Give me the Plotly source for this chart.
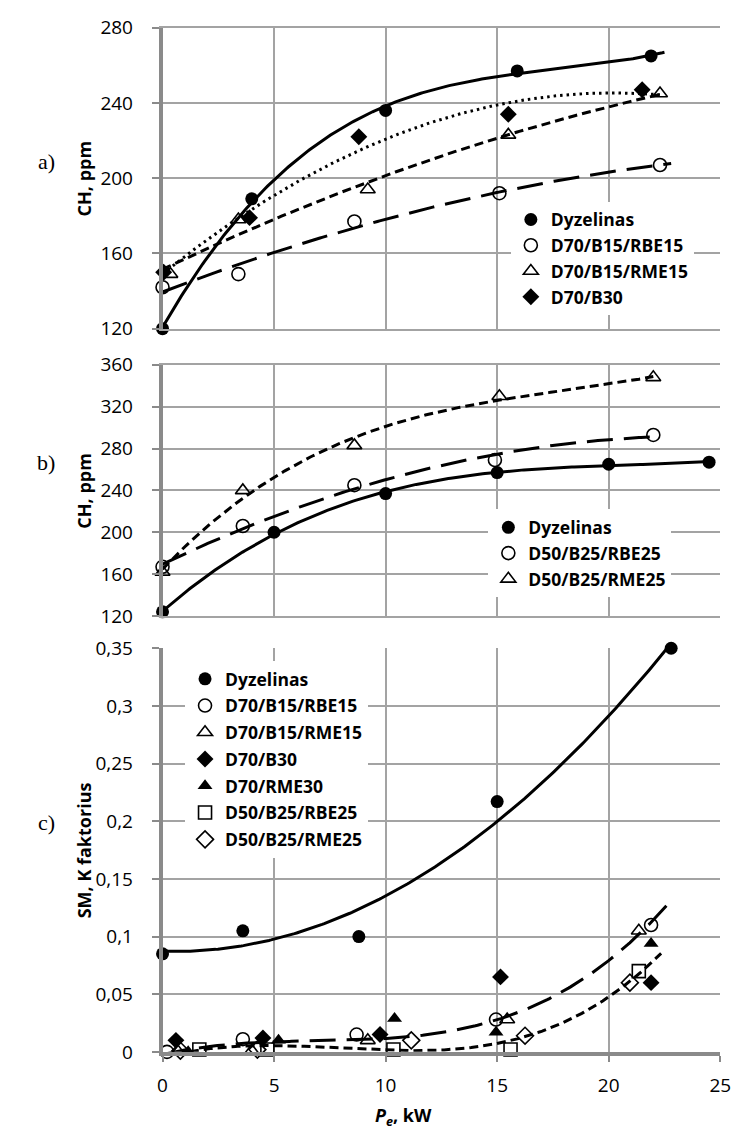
import numpy as np
import plotly.graph_objects as go

W, H = 742, 1145

# ---------------- a) CH, ppm : diesel vs D70 blends ----------------
a_dyz_x = [0.0, 4.0, 10.0, 15.9, 21.9]
a_dyz_y = [120, 189, 236, 257, 265]
a_rbe15_x = [0.0, 3.4, 8.6, 15.1, 22.3]
a_rbe15_y = [142, 149, 177, 192, 207]
a_rme15_x = [0.35, 3.4, 9.2, 15.5, 22.3]
a_rme15_y = [149, 178, 194, 223, 245]
a_b30_x = [0.05, 3.9, 8.8, 15.5, 21.5]
a_b30_y = [150, 179, 222, 234, 247]

# ---------------- b) CH, ppm : diesel vs D50 blends ----------------
b_dyz_x = [0.0, 5.0, 10.0, 15.0, 20.0, 24.5]
b_dyz_y = [124, 200, 237, 257, 265, 267]
b_rbe25_x = [0.0, 3.6, 8.6, 14.9, 22.0]
b_rbe25_y = [167, 206, 245, 269, 293]
b_rme25_x = [0.0, 3.6, 8.6, 15.1, 22.0]
b_rme25_y = [162, 240, 283, 330, 348]

# ---------------- c) smoke, K factor ----------------
c_dyz_x = [0.0, 3.6, 8.8, 15.0, 22.8]
c_dyz_y = [0.085, 0.105, 0.100, 0.217, 0.350]
c_rbe15_x = [0.2, 3.6, 8.7, 14.95, 21.9]
c_rbe15_y = [0.0, 0.011, 0.015, 0.028, 0.110]
c_rme15_x = [0.7, 4.0, 9.2, 15.45, 21.35]
c_rme15_y = [0.0, 0.001, 0.010, 0.028, 0.105]
c_b30_x = [0.6, 4.5, 9.75, 15.15, 21.9]
c_b30_y = [0.010, 0.012, 0.015, 0.065, 0.060]
c_rme30_x = [1.15, 5.2, 10.4, 14.95, 21.9]
c_rme30_y = [0.0, 0.010, 0.029, 0.017, 0.094]
c_rbe25_x = [1.65, 4.7, 10.35, 15.6, 21.35]
c_rbe25_y = [0.002, 0.002, 0.002, 0.002, 0.070]
c_rme25_x = [0.8, 4.25, 11.15, 16.25, 20.95]
c_rme25_y = [0.001, 0.002, 0.010, 0.014, 0.060]

INK = "#000000"
GRID = "#a3a3a3"
AXIS = "#8a8a8a"
SANS = "Open Sans"
SERIF = "Liberation Serif"

fig = go.Figure()


def add_trend(xs, ys, deg, x0, x1, dash, xa, ya):
    """Least-squares polynomial trend line drawn over [x0, x1]."""
    coef = np.polyfit(xs, ys, deg)
    xf = np.linspace(x0, x1, 240)
    fig.add_trace(go.Scatter(
        x=xf, y=np.polyval(coef, xf), mode="lines",
        line=dict(color=INK, width=3, dash=dash),
        showlegend=False, hoverinfo="skip", xaxis=xa, yaxis=ya))


def add_points(xs, ys, name, symbol, xa, ya, legend, size=13, group=None):
    hollow = symbol.endswith("-open")
    fig.add_trace(go.Scatter(
        x=xs, y=ys, mode="markers", name=name,
        marker=dict(symbol=symbol, size=size, color=INK,
                    line=dict(color=INK, width=1.6 if hollow else 0)),
        xaxis=xa, yaxis=ya, legend=legend, legendgroup=group,
        cliponaxis=False))


LONG = "26px,11px"
SHORT = "9px,5px"
DOT = "2.5px,4px"

# panel a
add_trend(a_dyz_x, a_dyz_y, 3, 0, 22.5, "solid", "x", "y")
add_trend(a_rbe15_x, a_rbe15_y, 2, 0, 22.8, LONG, "x", "y")
add_trend(a_rme15_x, a_rme15_y, 2, 0, 22.35, SHORT, "x", "y")
add_trend(a_b30_x, a_b30_y, 2, 0, 22.3, DOT, "x", "y")
add_points(a_dyz_x, a_dyz_y, "Dyzelinas", "circle", "x", "y", "legend")
add_points(a_rbe15_x, a_rbe15_y, "D70/B15/RBE15", "circle-open", "x", "y", "legend")
add_points(a_rme15_x, a_rme15_y, "D70/B15/RME15", "triangle-up-open", "x", "y", "legend")
add_points(a_b30_x, a_b30_y, "D70/B30", "diamond", "x", "y", "legend")

# panel b
add_trend(b_dyz_x, b_dyz_y, 3, 0, 24.5, "solid", "x2", "y2")
add_trend(b_rbe25_x, b_rbe25_y, 2, 0, 22.0, LONG, "x2", "y2")
add_trend(b_rme25_x, b_rme25_y, 3, 0, 22.0, SHORT, "x2", "y2")
add_points(b_dyz_x, b_dyz_y, "Dyzelinas", "circle", "x2", "y2", "legend2")
add_points(b_rbe25_x, b_rbe25_y, "D50/B25/RBE25", "circle-open", "x2", "y2", "legend2")
add_points(b_rme25_x, b_rme25_y, "D50/B25/RME25", "triangle-up-open", "x2", "y2", "legend2")

# panel c: diesel trend plus pooled trends for the B15 and B25 blends
add_trend(c_dyz_x, c_dyz_y, 2, 0, 22.8, "solid", "x3", "y3")
add_trend(c_rbe15_x + c_rme15_x, c_rbe15_y + c_rme15_y, 3, 0, 22.65, LONG, "x3", "y3")
add_trend(c_rbe25_x + c_rme25_x, c_rbe25_y + c_rme25_y, 3, 0, 22.35, SHORT, "x3", "y3")
c_series = [
    (c_dyz_x, c_dyz_y, "Dyzelinas", "circle"),
    (c_rbe15_x, c_rbe15_y, "D70/B15/RBE15", "circle-open"),
    (c_rme15_x, c_rme15_y, "D70/B15/RME15", "triangle-up-open"),
    (c_b30_x, c_b30_y, "D70/B30", "diamond"),
    (c_rme30_x, c_rme30_y, "D70/RME30", "triangle-up"),
    (c_rbe25_x, c_rbe25_y, "D50/B25/RBE25", "square-open"),
    (c_rme25_x, c_rme25_y, "D50/B25/RME25", "diamond-open"),
]
for i, (xs, ys, name, sym) in enumerate(c_series):
    add_points(xs, ys, name, sym, "x3", "y3", "legend3", group=f"g{i}")

X_DOM = [161 / W, 731 / W]


def ydom(top, bottom):
    return [1 - bottom / H, 1 - top / H]


tickfont = dict(family=SANS, size=19, color="#000000")
xbase = dict(domain=X_DOM, range=[0, 25], dtick=5, tick0=0, showgrid=True,
             gridcolor=GRID, gridwidth=1.5, zeroline=False)
ybase = dict(showgrid=True, gridcolor=GRID, gridwidth=1.5, zeroline=False,
             showline=True, linecolor=AXIS, linewidth=3.5, ticks="outside",
             ticklen=7, tickwidth=1.5, tickcolor=AXIS, tickfont=tickfont,
             ticklabelstandoff=15)

legend_font = dict(family=SANS, size=17.5, color="#000000", weight="bold")
legend_base = dict(xanchor="left", yanchor="top", bgcolor="white",
                   borderwidth=0, font=legend_font, itemwidth=30)

fig.update_layout(
    width=W, height=H, autosize=False,
    margin=dict(l=0, r=0, t=0, b=0),
    paper_bgcolor="white", plot_bgcolor="white",
    separators=", ",
    xaxis=dict(xbase, anchor="y", showticklabels=False, showline=True,
               linecolor=GRID, linewidth=1.5, mirror=True),
    xaxis2=dict(xbase, anchor="y2", showticklabels=False, showline=True,
                linecolor=GRID, linewidth=1.5, mirror=True),
    xaxis3=dict(xbase, anchor="y3", showticklabels=True, ticks="outside",
                ticklen=6, tickwidth=1.5, tickcolor=AXIS, showline=True,
                linecolor=AXIS, linewidth=3.5, tickfont=tickfont,
                ticklabelstandoff=8),
    yaxis=dict(ybase, domain=ydom(15, 323), range=[120, 280], dtick=40,
               tick0=0, anchor="x"),
    yaxis2=dict(ybase, domain=ydom(360, 617), range=[120, 360], dtick=40,
                tick0=0, anchor="x2"),
    yaxis3=dict(ybase, domain=ydom(650, 1063), range=[0, 0.35], dtick=0.05,
                tick0=0, anchor="x3"),
    legend=dict(legend_base, x=517 / W, y=1 - 193 / H),
    legend2=dict(legend_base, x=494 / W, y=1 - 508 / H),
    legend3=dict(legend_base, x=184 / W, y=1 - 663 / H,
                 traceorder="grouped", tracegroupgap=1),
    showlegend=True,
)

title_font = dict(family=SANS, size=18, color="#000000", weight="bold")
for yref, text in (("y domain", "CH, ppm"), ("y2 domain", "CH, ppm"),
                   ("y3 domain", "SM, K faktorius")):
    fig.add_annotation(x=81 / W, xref="paper", y=0.5, yref=yref, text=text,
                       textangle=-90, showarrow=False, font=title_font,
                       xanchor="center", yanchor="middle")

for label, ypx in (("a)", 152), ("b)", 460), ("c)", 828)):
    fig.add_annotation(x=42 / W, y=1 - ypx / H, xref="paper", yref="paper",
                       text=label, showarrow=False,
                       font=dict(family=SERIF, size=22, color="#000000"),
                       xanchor="center", yanchor="middle")

fig.add_annotation(x=407 / W, y=1 - 1129 / H, xref="paper", yref="paper",
                   text="<i>P</i><sub><i>e</i></sub>, kW", showarrow=False,
                   font=title_font, xanchor="center", yanchor="middle")

fig.write_html("out.html")
